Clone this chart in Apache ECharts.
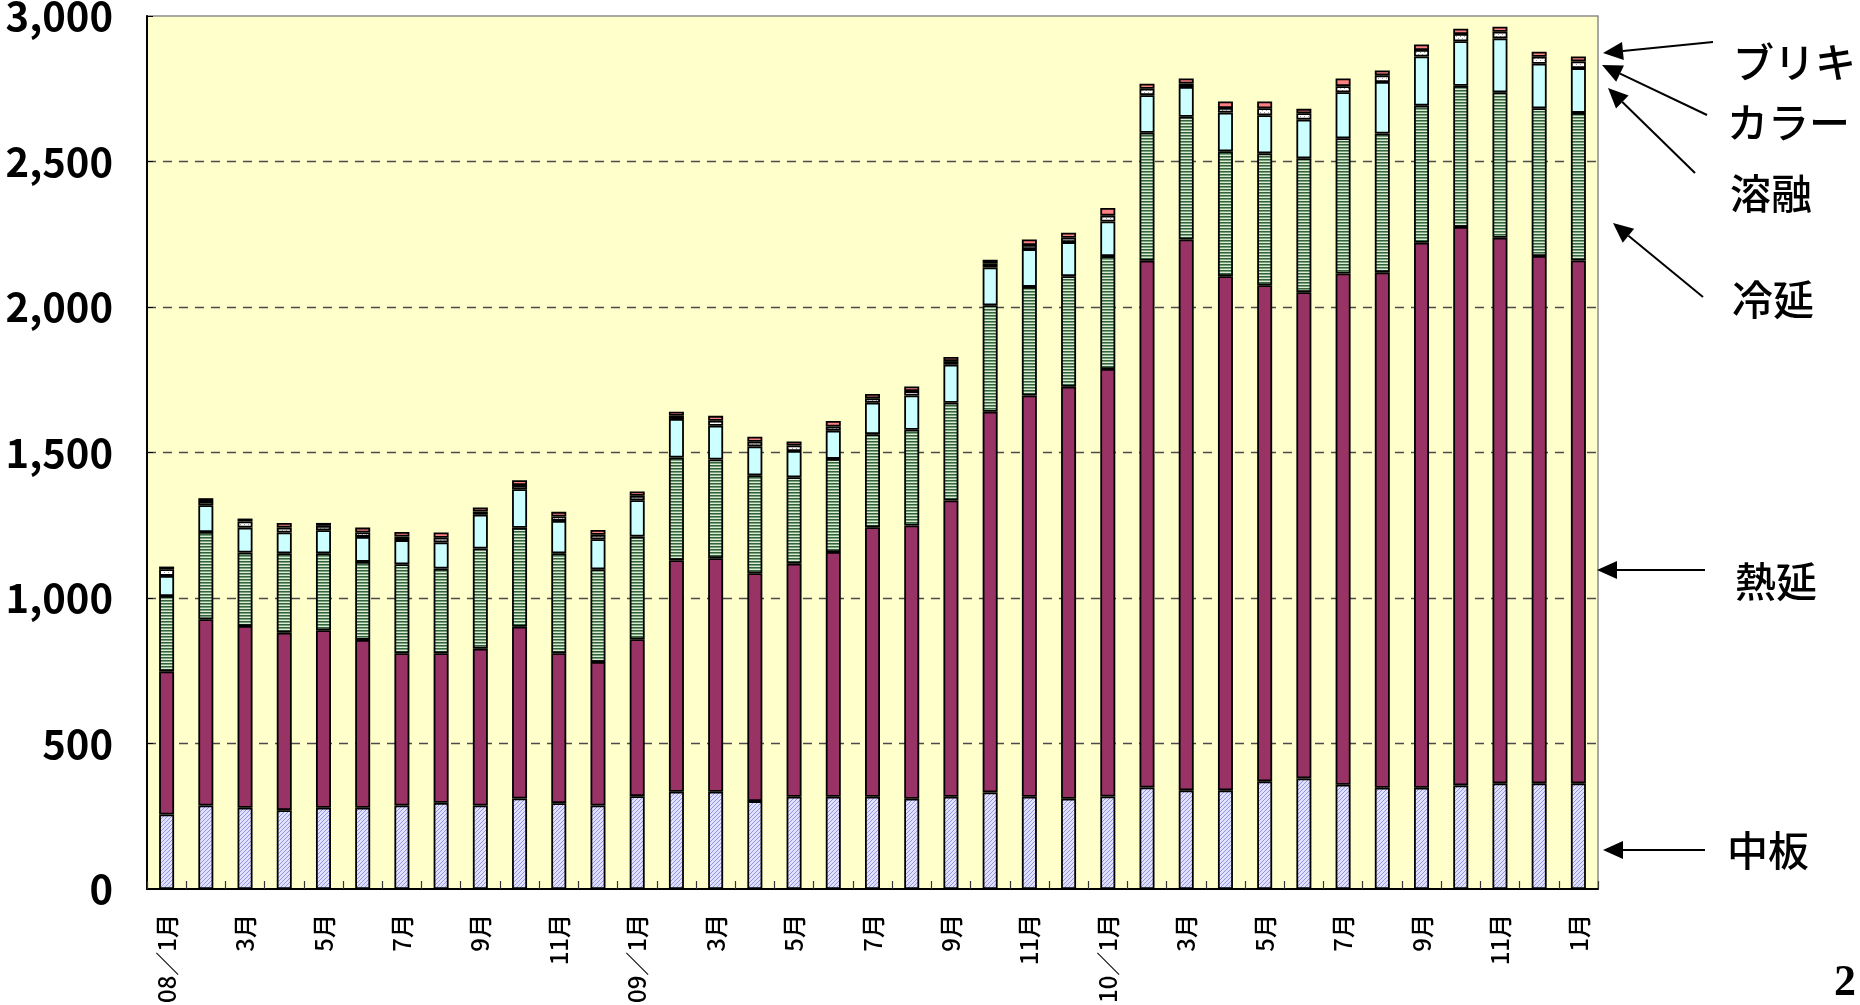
<!DOCTYPE html>
<html>
<head>
<meta charset="utf-8">
<script src="https://cdn.jsdelivr.net/npm/echarts@6/dist/echarts.min.js"></script>
<style>
html,body{margin:0;padding:0;background:#fff;}
#chart{width:1860px;height:1005px;}
</style>
</head>
<body>
<div id="chart"></div>
<script>
// ---- data ----
const categories = ['08/1','08/2','08/3','08/4','08/5','08/6','08/7','08/8','08/9','08/10','08/11','08/12',
  '09/1','09/2','09/3','09/4','09/5','09/6','09/7','09/8','09/9','09/10','09/11','09/12',
  '10/1','10/2','10/3','10/4','10/5','10/6','10/7','10/8','10/9','10/10','10/11','10/12','11/1'];
const tickLabels = ['08／1月','2月','3月','4月','5月','6月','7月','8月','9月','10月','11月','12月',
  '09／1月','2月','3月','4月','5月','6月','7月','8月','9月','10月','11月','12月',
  '10／1月','2月','3月','4月','5月','6月','7月','8月','9月','10月','11月','12月','1月'];
const yTicks = [0,500,1000,1500,2000,2500,3000];

const chuban  = [256,287,279,271,279,279,287,296,287,311,295,287,319,334,334,302,317,317,317,310,317,332,317,310,318,349,339,339,370,380,358,348,348,356,363,363,363];
const netsuen = [492,640,625,610,610,577,523,514,539,590,515,493,539,796,803,783,801,841,926,939,1018,1308,1379,1416,1469,1810,1893,1767,1705,1671,1757,1771,1873,1919,1875,1812,1797];
const reien   = [259,300,252,273,265,268,306,291,344,340,344,319,353,353,339,337,297,320,320,329,336,366,373,380,388,440,422,429,453,460,465,477,471,485,500,508,507];
const yoyu    = [69,92,86,71,79,86,83,90,116,133,111,103,125,132,116,99,90,97,108,118,131,130,130,117,119,129,102,133,131,133,158,177,169,153,185,153,154];
const color   = [23,14,21,17,15,15,12,16,11,14,15,15,15,11,17,16,19,14,15,15,12,13,14,15,20,22,12,16,24,22,21,23,22,25,23,24,23];
const buriki  = [9,10,10,16,10,17,16,18,14,17,16,17,15,14,17,17,14,19,15,16,14,13,19,17,26,17,17,22,23,15,26,17,19,18,17,17,17];

const seriesNames = ['中板','熱延','冷延','溶融','カラー','ブリキ'];

// ---- patterns ----
function makePattern(w, h, draw) {
  const c = document.createElement('canvas');
  c.width = w; c.height = h;
  draw(c.getContext('2d'));
  return { image: c, repeat: 'repeat' };
}
const hatchBlue = makePattern(4, 4, g => {
  g.fillStyle = '#E0E0FF'; g.fillRect(0, 0, 4, 4);
  g.fillStyle = '#9494E0';
  for (let i = 0; i < 4; i++) g.fillRect(i, 3 - i, 1, 1);
});
const stripeGreen = makePattern(3, 3, g => {
  g.fillStyle = '#DCEAD8'; g.fillRect(0, 0, 3, 3);
  g.fillStyle = '#33633A'; g.fillRect(0, 0, 3, 1);
  g.fillStyle = '#79A079'; g.fillRect(0, 1, 3, 1);
});
const dotsWhite = makePattern(4, 4, g => {
  g.fillStyle = '#FFFFFF'; g.fillRect(0, 0, 4, 4);
  g.fillStyle = '#A0A0A0'; g.fillRect(0, 0, 1, 1); g.fillRect(2, 2, 1, 1);
});

const fills = [hatchBlue, '#993366', stripeGreen, '#CCFFFF', dotsWhite, '#FF8080'];
const values = [chuban, netsuen, reien, yoyu, color, buriki];

const series = seriesNames.map((name, k) => ({
  name: name,
  type: 'bar',
  stack: 'total',
  barWidth: 15,
  data: values[k],
  itemStyle: { color: fills[k], borderColor: '#000', borderWidth: 1.8 },
  emphasis: { disabled: true }
}));

// ---- annotations (right side) ----
const notes = [
  { text: 'ブリキ', x: 1733, y: 62,  from: [1713, 42],  to: [1603, 53] },
  { text: 'カラー', x: 1727, y: 122, from: [1707, 115], to: [1602, 65] },
  { text: '溶融',   x: 1730, y: 193, from: [1695, 173], to: [1608, 88] },
  { text: '冷延',   x: 1732, y: 299, from: [1703, 297], to: [1613, 223] },
  { text: '熱延',   x: 1735, y: 581, from: [1705, 570], to: [1597, 570] },
  { text: '中板',   x: 1727, y: 850, from: [1705, 850], to: [1603, 850] }
];
const graphic = [];
notes.forEach(n => {
  graphic.push({ type: 'text', silent: true,
    style: { text: n.text, x: n.x, y: n.y, fill: '#000', verticalAlign: 'middle',
      font: '500 41px "Noto Sans CJK JP"' } });
  const dx = n.to[0] - n.from[0], dy = n.to[1] - n.from[1];
  const L = Math.sqrt(dx * dx + dy * dy), ux = dx / L, uy = dy / L;
  const hl = 20, hw = 9;
  const bx = n.to[0] - ux * hl, by = n.to[1] - uy * hl;
  graphic.push({ type: 'line', silent: true,
    shape: { x1: n.from[0], y1: n.from[1], x2: bx, y2: by },
    style: { stroke: '#000', lineWidth: 2 } });
  graphic.push({ type: 'polygon', silent: true,
    shape: { points: [[n.to[0], n.to[1]], [bx - uy * hw, by + ux * hw], [bx + uy * hw, by - ux * hw]] },
    style: { fill: '#000' } });
});
graphic.push({ type: 'text', silent: true,
  style: { text: '2', x: 1834, y: 984, fill: '#000', verticalAlign: 'middle',
    font: 'bold 44px "Liberation Serif"' } });

// ---- chart ----
const chart = echarts.init(document.getElementById('chart'), null, { renderer: 'canvas' });
chart.setOption({
  animation: false,
  backgroundColor: '#ffffff',
  grid: {
    left: 147, top: 16, width: 1451, height: 873,
    show: true, backgroundColor: '#FFFFCC', borderColor: '#8C8C8C', borderWidth: 1.5,
    outerBoundsMode: 'none', containLabel: false
  },
  xAxis: {
    type: 'category',
    data: categories,
    boundaryGap: true,
    axisLine: { lineStyle: { color: '#000', width: 2 } },
    axisTick: { show: true, inside: true, length: 8, interval: 0, lineStyle: { color: '#333', width: 1.2 } },
    axisLabel: {
      interval: 1, rotate: 90, margin: 25,
      fontSize: 24, fontWeight: 500, color: '#000', fontFamily: '"Noto Sans CJK JP"',
      formatter: (v, i) => tickLabels[i]
    },
    splitLine: { show: false }
  },
  yAxis: {
    type: 'value',
    min: yTicks[0], max: yTicks[yTicks.length - 1], interval: yTicks[1] - yTicks[0],
    axisLine: { show: true, lineStyle: { color: '#000', width: 2 } },
    axisTick: { show: true, inside: true, length: 6, lineStyle: { color: '#000' } },
    axisLabel: {
      margin: 34, fontSize: 40, fontWeight: 'bold', color: '#000', fontFamily: '"Noto Sans CJK JP"',
      formatter: v => v.toString().replace(/\B(?=(\d{3})+(?!\d))/g, ',')
    },
    splitLine: { show: true, showMinLine: false, showMaxLine: false,
      lineStyle: { color: '#4A4A4A', type: [9, 7], width: 1.3 } }
  },
  series: series,
  graphic: graphic
});
</script>
</body>
</html>
